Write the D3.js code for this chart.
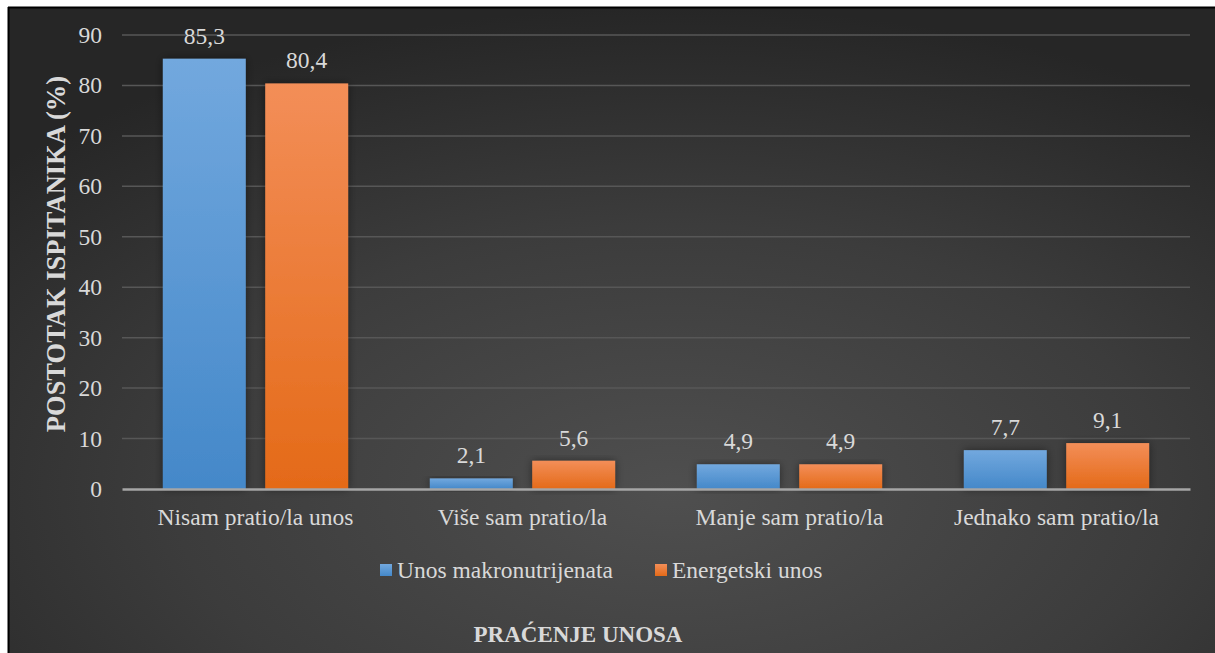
<!DOCTYPE html>
<html>
<head>
<meta charset="utf-8">
<script src="https://cdn.jsdelivr.net/npm/d3@7"></script>
<style>
  body { margin: 0; background: #fff; }
  text { font-family: "Liberation Serif", "Times New Roman", serif; }
</style>
</head>
<body>
<div id="chart"></div>
<script>
var width = 1215, height = 653;

var categories = ["Nisam pratio/la unos", "Više sam pratio/la", "Manje sam pratio/la", "Jednako sam pratio/la"];
var seriesNames = ["Unos makronutrijenata", "Energetski unos"];
var makroValues = [85.3, 2.1, 4.9, 7.7];
var energyValues = [80.4, 5.6, 4.9, 9.1];
var yTicks = [0, 10, 20, 30, 40, 50, 60, 70, 80, 90];

var seriesData = [makroValues, energyValues];
var topColors = ["#72a8de", "#f38e58"];
var botColors = ["#4488c9", "#e46a18"];

var svg = d3.select("#chart").append("svg").attr("width", width).attr("height", height);
var defs = svg.append("defs");

var bg = defs.append("radialGradient").attr("id", "bg")
  .attr("cx", "0.55").attr("cy", "0.75").attr("r", "0.75");
bg.append("stop").attr("offset", "0").attr("stop-color", "#4f4f4f");
bg.append("stop").attr("offset", "0.55").attr("stop-color", "#3c3c3c");
bg.append("stop").attr("offset", "1").attr("stop-color", "#262626");

seriesNames.forEach(function(s, i) {
  var g = defs.append("linearGradient").attr("id", "bar" + i)
    .attr("x1", 0).attr("y1", 0).attr("x2", 0).attr("y2", 1);
  g.append("stop").attr("offset", "0").attr("stop-color", topColors[i]);
  g.append("stop").attr("offset", "1").attr("stop-color", botColors[i]);
});

var shadow = defs.append("filter").attr("id", "shadow")
  .attr("x", "-20%").attr("y", "-20%").attr("width", "140%").attr("height", "140%");
shadow.append("feDropShadow").attr("dx", 0).attr("dy", 0).attr("stdDeviation", 4)
  .attr("flood-color", "#000").attr("flood-opacity", 0.45);

// frame
svg.append("rect").attr("x", 8).attr("y", 7).attr("width", width - 8).attr("height", height - 7)
  .attr("fill", "url(#bg)");
svg.append("line").attr("x1", 8.5).attr("x2", 8.5).attr("y1", 7).attr("y2", height)
  .attr("stroke", "#000").attr("stroke-width", 2);
svg.append("line").attr("x1", 8).attr("x2", width).attr("y1", 7.5).attr("y2", 7.5)
  .attr("stroke", "#000").attr("stroke-width", 2);

var plotL = 122, plotR = 1190, plotT = 35, plotB = 489;
var fs = "23.5px";

var y = d3.scaleLinear().domain([0, 90]).range([plotB, plotT]);
var x0 = d3.scaleBand().domain(categories).range([plotL, plotR]).padding(0);
var x1 = d3.scaleBand().domain(d3.range(seriesNames.length))
  .range([x0.bandwidth() * 0.153, x0.bandwidth() * 0.847]).paddingInner(0.19);

// gridlines
svg.append("g").selectAll("line").data(yTicks.filter(function(d) { return d > 0; }))
  .enter().append("line")
  .attr("x1", plotL).attr("x2", plotR)
  .attr("y1", function(d) { return y(d); }).attr("y2", function(d) { return y(d); })
  .attr("stroke", "#575757").attr("stroke-width", 1.5);

// y tick labels
var yAxis = svg.append("g").attr("transform", "translate(" + plotL + ",0)")
  .call(d3.axisLeft(y).tickValues(yTicks).tickSize(0).tickPadding(20));
yAxis.select(".domain").remove();
yAxis.selectAll("text").attr("fill", "#d9d9d9").style("font-size", fs)
  .style("font-family", "'Liberation Serif', serif");

// bars
var groups = svg.append("g").selectAll("g").data(categories).enter().append("g")
  .attr("transform", function(d) { return "translate(" + x0(d) + ",0)"; });

groups.selectAll("rect").data(function(d, ci) {
  return seriesData.map(function(vals, si) { return { si: si, v: vals[ci] }; });
}).enter().append("rect")
  .attr("x", function(d) { return x1(d.si); })
  .attr("y", function(d) { return y(d.v); })
  .attr("width", x1.bandwidth())
  .attr("height", function(d) { return y(0) - y(d.v); })
  .attr("fill", function(d) { return "url(#bar" + d.si + ")"; })
  .attr("filter", "url(#shadow)");

groups.selectAll("text.val").data(function(d, ci) {
  return seriesData.map(function(vals, si) { return { si: si, v: vals[ci] }; });
}).enter().append("text").attr("class", "val")
  .attr("x", function(d) { return x1(d.si) + x1.bandwidth() / 2; })
  .attr("y", function(d) { return y(d.v) - 15; })
  .attr("text-anchor", "middle")
  .attr("fill", "#d9d9d9").style("font-size", fs)
  .text(function(d) { return d3.format(".1f")(d.v).replace(".", ","); });

// x axis
var xAxis = svg.append("g").attr("transform", "translate(0," + plotB + ")")
  .call(d3.axisBottom(x0).tickSize(0).tickPadding(19));
xAxis.select(".domain").attr("stroke", "#a6a6a6").attr("stroke-width", 2.5);
xAxis.selectAll("text").attr("fill", "#d9d9d9").style("font-size", fs)
  .style("font-family", "'Liberation Serif', serif");

// axis titles
svg.append("text")
  .attr("transform", "translate(65,254) rotate(-90)")
  .attr("text-anchor", "middle")
  .attr("fill", "#d9d9d9").style("font-size", "26.5px").style("font-weight", "bold")
  .text("POSTOTAK ISPITANIKA (%)");

svg.append("text")
  .attr("x", 578).attr("y", 642)
  .attr("text-anchor", "middle")
  .attr("fill", "#d9d9d9").style("font-size", "23px").style("font-weight", "bold")
  .text("PRAĆENJE UNOSA");

// legend
var legendX = [380, 655];
var legend = svg.append("g").selectAll("g").data(seriesNames).enter().append("g")
  .attr("transform", function(d, i) { return "translate(" + legendX[i] + ",564)"; });
legend.append("rect").attr("width", 12).attr("height", 12)
  .attr("fill", function(d, i) { return "url(#bar" + i + ")"; });
legend.append("text").attr("x", 17).attr("y", 6).attr("dy", "0.35em")
  .attr("fill", "#d9d9d9").style("font-size", fs)
  .text(function(d) { return d; });
</script>
</body>
</html>
